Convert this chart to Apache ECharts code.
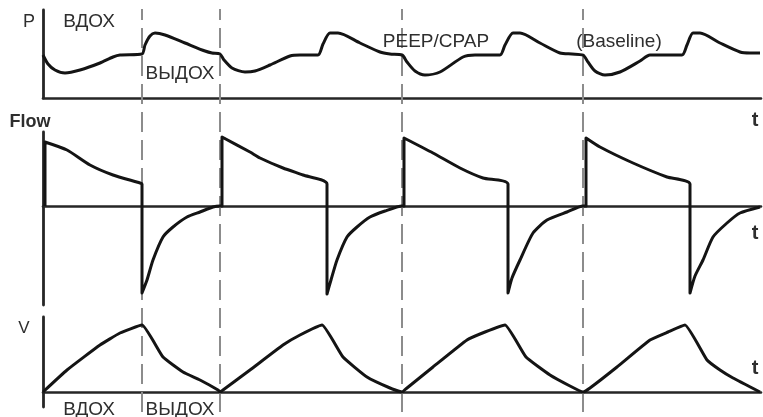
<!DOCTYPE html>
<html>
<head>
<meta charset="utf-8">
<script src="https://cdn.jsdelivr.net/npm/echarts@6/dist/echarts.min.js"></script>
<style>
  html, body { margin: 0; padding: 0; background: #fff; }
  #main { width: 763px; height: 417px; }
</style>
</head>
<body>
<div id="main"></div>
<script>
var myChart = echarts.init(document.getElementById('main'))

// время (усл. ед.) -> давление
var pressure = [
    [0, 43], [0.05, 34], [0.12, 28], [0.22, 25], [0.37, 28], [0.57, 35], [0.70, 41], [0.77, 43], [0.99, 44],
    [1.02, 53], [1.07, 62], [1.12, 65], [1.22, 63], [1.42, 55], [1.62, 47], [1.69, 45], [1.77, 44],
    [1.81, 38], [1.89, 30], [2.02, 26], [2.12, 27], [2.27, 33], [2.47, 42], [2.57, 43], [2.75, 43],
    [2.80, 54], [2.87, 65], [2.95, 65], [3.17, 55], [3.37, 46], [3.47, 44], [3.59, 43],
    [3.64, 36], [3.72, 27], [3.82, 23], [3.97, 26], [4.20, 41], [4.32, 43], [4.57, 43],
    [4.62, 53], [4.70, 65], [4.77, 65], [4.97, 55], [5.17, 45], [5.29, 44], [5.40, 43],
    [5.45, 36], [5.52, 27], [5.62, 23], [5.77, 26], [5.97, 37], [6.07, 43], [6.39, 43],
    [6.44, 53], [6.50, 65], [6.57, 65], [6.77, 55], [6.97, 46], [7.07, 45], [7.17, 45]
]

// поток
var flow = [
    [0.02, 0], [0.02, 64], [0.24, 56], [0.47, 41], [0.70, 31], [0.97, 23], [0.99, 22], [0.99, -87],
    [1.04, -74], [1.10, -54], [1.20, -31], [1.30, -21], [1.44, -11], [1.57, -6], [1.70, -1], [1.77, 0],
    [1.79, 0], [1.79, 69], [2.07, 54], [2.17, 48], [2.40, 38], [2.60, 31], [2.84, 22], [2.84, -88],
    [2.88, -74], [2.94, -54], [3.04, -31], [3.14, -21], [3.27, -11], [3.42, -5], [3.59, 0],
    [3.61, 0], [3.61, 68], [3.90, 53], [4.17, 38], [4.40, 28], [4.65, 22], [4.65, -87],
    [4.69, -72], [4.77, -54], [4.90, -27], [5.04, -14], [5.24, -6], [5.40, 0],
    [5.43, 0], [5.43, 68], [5.57, 59], [5.90, 43], [6.24, 29], [6.47, 22], [6.47, -87],
    [6.52, -70], [6.60, -54], [6.70, -31], [6.84, -17], [6.97, -7], [7.17, -1]
]

// объём
var volume = [
    [0, 0], [0.24, 22], [0.57, 47], [0.77, 59], [0.99, 67], [1.20, 35], [1.40, 20], [1.57, 12], [1.75, 2], [1.77, 0],
    [1.80, 2], [2.07, 22], [2.40, 47], [2.57, 57], [2.79, 67], [3.00, 35], [3.24, 15], [3.47, 4], [3.59, 0],
    [3.64, 4], [3.90, 25], [4.24, 52], [4.42, 60], [4.62, 67], [4.83, 35], [5.07, 17], [5.27, 6], [5.40, 0],
    [5.47, 4], [5.74, 25], [6.07, 52], [6.25, 60], [6.42, 67], [6.64, 32], [6.77, 22], [6.90, 14], [7.17, 0]
]

// границы фаз (пунктир)
var phaseMarks = [0.99, 1.77, 3.59, 5.40]

var axisColor = '#262626'
var curveColor = '#141414'
var txtColor = '#2e2e2e'

function xAx(gi, show) {
    return {
        type: 'value', gridIndex: gi, min: 0, max: 7.18,
        axisLine: { show: show, onZero: true, lineStyle: { color: axisColor, width: 2.6 } },
        axisTick: { show: false }, axisLabel: { show: false }, splitLine: { show: false }
    }
}
function yAx(gi, min, max, show) {
    return {
        type: 'value', gridIndex: gi, min: min, max: max,
        axisLine: { show: show, onZero: false, lineStyle: { color: axisColor, width: 2.8 } },
        axisTick: { show: false }, axisLabel: { show: false }, splitLine: { show: false }
    }
}
function curve(name, gi, data, smooth) {
    return {
        name: name, type: 'line', xAxisIndex: gi, yAxisIndex: gi,
        data: data, showSymbol: false, symbol: 'none', z: 5,
        smooth: smooth,
        lineStyle: { color: curveColor, width: 3, join: 'round' },
        animation: false
    }
}
function label(text, x, y, font) {
    return {
        type: 'text', x: x, y: y, z: 10,
        style: { text: text, font: font, fill: txtColor, textAlign: 'center', textVerticalAlign: 'middle' }
    }
}

var options = {
    backgroundColor: '#fff',
    animation: false,
    grid: [
        { left: 43, width: 718, top: 10, height: 88 },
        { left: 43, width: 718, top: 132, height: 173 },
        { left: 43, width: 718, top: 317, height: 90 },
        { left: 43, width: 718, top: 9, height: 403 }
    ],
    xAxis: [xAx(0, true), xAx(1, true), xAx(2, true), xAx(3, false)],
    yAxis: [yAx(0, 0, 88, true), yAx(1, -99, 74, true), yAx(2, -15, 75, true), yAx(3, 0, 1, false)],
    series: [
        {
            type: 'line', xAxisIndex: 3, yAxisIndex: 3, data: [], z: 1,
            markLine: {
                silent: true, symbol: ['none', 'none'], animation: false,
                label: { show: false },
                lineStyle: { color: '#8c8c8c', width: 2, type: [20, 8] },
                data: phaseMarks.map(function (v) { return { xAxis: v } })
            }
        },
        curve('P', 0, pressure, 0.25),
        curve('Flow', 1, flow, 0.2),
        curve('V', 2, volume, 0.12)
    ],
    graphic: [
        label('P', 29, 22, '18px "Liberation Sans", Arial, sans-serif'),
        label('ВДОХ', 89, 22, '19px "Liberation Sans", Arial, sans-serif'),
        label('ВЫДОХ', 180, 74, '19px "Liberation Sans", Arial, sans-serif'),
        label('PEEP/CPAP', 436, 42, '19px "Liberation Sans", Arial, sans-serif'),
        label('(Baseline)', 619, 42, '19px "Liberation Sans", Arial, sans-serif'),
        label('Flow', 30, 122, 'bold 18px "Liberation Sans", Arial, sans-serif'),
        label('t', 755, 120, 'bold 20px "Liberation Sans", Arial, sans-serif'),
        label('t', 755, 233, 'bold 20px "Liberation Sans", Arial, sans-serif'),
        label('V', 24, 328, '17px "Liberation Sans", Arial, sans-serif'),
        label('t', 755, 368, 'bold 20px "Liberation Sans", Arial, sans-serif'),
        label('ВДОХ', 89, 410, '19px "Liberation Sans", Arial, sans-serif'),
        label('ВЫДОХ', 180, 410, '19px "Liberation Sans", Arial, sans-serif')
    ]
}

myChart.setOption(options)
</script>
</body>
</html>
